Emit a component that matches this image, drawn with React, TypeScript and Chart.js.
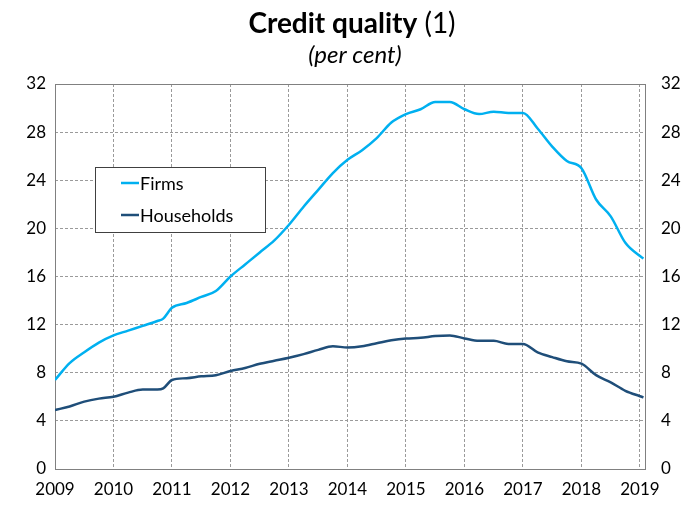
import React, { useEffect, useRef } from "react";
import { Chart, registerables } from "chart.js";

Chart.register(...registerables);

const TITLE_BOLD = "Credit quality";
const TITLE_REST = " (1)";
const SUBTITLE = "(per cent)";
const SERIES_NAMES = ["Firms", "Households"];

const periods = [
  2009.0, 2009.25, 2009.5, 2009.75, 2010.0, 2010.25, 2010.5, 2010.75, 2010.85, 2011.0,
  2011.25, 2011.5, 2011.75, 2012.0, 2012.25, 2012.5, 2012.75, 2013.0, 2013.25, 2013.5,
  2013.75, 2014.0, 2014.25, 2014.5, 2014.75, 2015.0, 2015.25, 2015.5, 2015.75, 2016.0,
  2016.25, 2016.5, 2016.75, 2017.0, 2017.25, 2017.5, 2017.75, 2018.0, 2018.25, 2018.5,
  2018.75, 2019.0, 2019.06,
];

const firms = [
  7.4, 8.8, 9.7, 10.5, 11.1, 11.5, 11.9, 12.3, 12.5, 13.4,
  13.8, 14.3, 14.8, 16.0, 17.0, 18.0, 19.0, 20.3, 21.8, 23.2,
  24.6, 25.7, 26.5, 27.5, 28.8, 29.5, 29.9, 30.5, 30.5, 29.9,
  29.5, 29.7, 29.6, 29.6, 28.3, 26.8, 25.6, 25.0, 22.4, 21.0,
  18.8, 17.7, 17.5,
];

const households = [
  4.9, 5.2, 5.6, 5.85, 6.0, 6.35, 6.6, 6.6, 6.7, 7.4,
  7.55, 7.7, 7.8, 8.15, 8.4, 8.75, 9.0, 9.25, 9.55, 9.9,
  10.2, 10.1, 10.2, 10.45, 10.7, 10.85, 10.9, 11.05, 11.1, 10.85,
  10.65, 10.65, 10.4, 10.4, 9.7, 9.3, 8.95, 8.75, 7.8, 7.2,
  6.5, 6.05, 5.95,
];

const yearTicksMin = 2009;
const yearTicksMax = 2019;
const yTickMin = 0;
const yTickMax = 32;
const yTickStep = 4;

const COLORS = ["#00B0F0", "#1F4E79"];
const FONT = "Lato, 'Open Sans', sans-serif";

export default function App() {
  const ref = useRef<HTMLCanvasElement | null>(null);

  useEffect(() => {
    document.body.style.margin = "0";
    const canvas = ref.current;
    if (!canvas) return;

    const boxPlugin = {
      id: "boxAndTitle",
      beforeDatasetsDraw(chart: any) {
        const { ctx, chartArea } = chart;
        ctx.save();
        ctx.strokeStyle = "#808080";
        ctx.lineWidth = 1;
        ctx.setLineDash([]);
        ctx.strokeRect(
          Math.round(chartArea.left) + 0.5,
          Math.round(chartArea.top) + 0.5,
          Math.round(chartArea.right - chartArea.left),
          Math.round(chartArea.bottom - chartArea.top)
        );
        ctx.restore();
      },
      afterDraw(chart: any) {
        const { ctx } = chart;
        ctx.save();
        // title
        const cx = 352;
        ctx.fillStyle = "#000";
        ctx.textBaseline = "alphabetic";
        ctx.font = `bold 28px ${FONT}`;
        const w1 = ctx.measureText(TITLE_BOLD).width;
        ctx.font = `28px ${FONT}`;
        const w2 = ctx.measureText(TITLE_REST).width;
        const sx = cx - (w1 + w2) / 2;
        ctx.font = `bold 28px ${FONT}`;
        ctx.textAlign = "left";
        ctx.fillText(TITLE_BOLD, sx, 33);
        ctx.font = `28px ${FONT}`;
        ctx.fillText(TITLE_REST, sx + w1, 33);
        ctx.font = `italic 24px ${FONT}`;
        ctx.textAlign = "center";
        ctx.fillText(SUBTITLE, 355, 63);

        // legend box
        const lx = 95.5, ly = 167.5, lw = 170, lh = 65;
        ctx.fillStyle = "#fff";
        ctx.fillRect(lx, ly, lw, lh);
        ctx.strokeStyle = "#404040";
        ctx.lineWidth = 1;
        ctx.strokeRect(lx, ly, lw, lh);
        const ds = chart.data.datasets;
        const rows = [183, 215];
        ds.forEach((d: any, i: number) => {
          ctx.strokeStyle = d.borderColor;
          ctx.lineWidth = 2.5;
          ctx.beginPath();
          ctx.moveTo(121, rows[i]);
          ctx.lineTo(139, rows[i]);
          ctx.stroke();
          ctx.fillStyle = "#000";
          ctx.font = `18px ${FONT}`;
          ctx.textAlign = "left";
          ctx.textBaseline = "middle";
          ctx.fillText(d.label, 140, rows[i] + 1);
        });
        ctx.restore();
      },
    };

    const mkPoints = (vals: number[]) => periods.map((p, i) => ({ x: p, y: vals[i] }));

    const gridCommon = {
      color: "#9a9a9a",
      lineWidth: 1,
      drawTicks: false,
    };

    const chart = new Chart(canvas, {
      type: "line",
      data: {
        datasets: [
          {
            label: SERIES_NAMES[0],
            data: mkPoints(firms),
            borderColor: COLORS[0],
            backgroundColor: COLORS[0],
            borderWidth: 2.5,
            pointRadius: 0,
            cubicInterpolationMode: "monotone",
            yAxisID: "y",
          },
          {
            label: SERIES_NAMES[1],
            data: mkPoints(households),
            borderColor: COLORS[1],
            backgroundColor: COLORS[1],
            borderWidth: 2.5,
            pointRadius: 0,
            cubicInterpolationMode: "monotone",
            yAxisID: "y",
          },
        ],
      },
      options: {
        responsive: false,
        animation: false,
        devicePixelRatio: 1,
        layout: { padding: { top: 84, left: 0, right: 0, bottom: 0 } },
        plugins: {
          legend: { display: false },
          title: { display: false },
          tooltip: { enabled: false },
        },
        scales: {
          x: {
            type: "linear",
            min: yearTicksMin,
            max: yearTicksMax + 0.086,
            grid: { ...gridCommon },
            border: { display: false, dash: [3, 2] },
            ticks: {
              stepSize: 1,
              includeBounds: false,
              autoSkip: false,
              maxRotation: 0,
              padding: 10,
              color: "#000",
              font: { family: FONT, size: 17 },
              callback: (v: any) => String(v),
            },
            afterFit: (s: any) => {
              s.height = 38;
            },
          },
          y: {
            position: "left",
            min: yTickMin,
            max: yTickMax,
            grid: { ...gridCommon },
            border: { display: false, dash: [3, 2] },
            ticks: {
              stepSize: yTickStep,
              padding: 9,
              color: "#000",
              font: { family: FONT, size: 17 },
            },
            afterFit: (s: any) => {
              s.width = 55;
            },
          },
          y2: {
            position: "right",
            min: yTickMin,
            max: yTickMax,
            grid: { display: false },
            border: { display: false },
            ticks: {
              stepSize: yTickStep,
              padding: 8,
              color: "#000",
              font: { family: FONT, size: 17 },
            },
            afterFit: (s: any) => {
              s.width = 53;
            },
          },
        },
      },
      plugins: [boxPlugin],
    } as any);

    return () => chart.destroy();
  }, []);

  return <canvas ref={ref} width={698} height={507} style={{ display: "block" }} />;
}
